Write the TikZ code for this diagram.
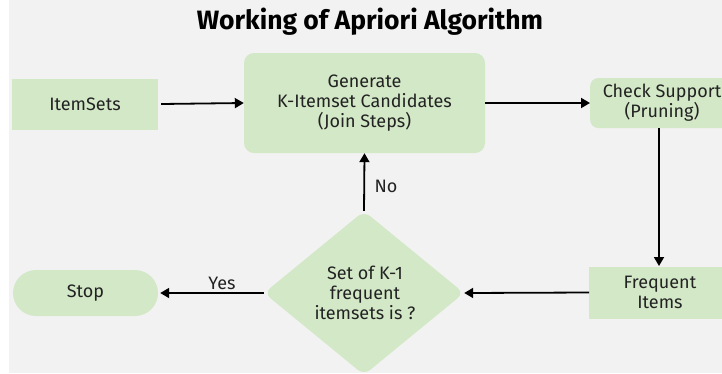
\documentclass[tikz,border=0pt]{standalone}
\usepackage{fontspec}
\setmainfont{Fira Sans}
\usetikzlibrary{arrows.meta,shapes.geometric}
\definecolor{bgpage}{HTML}{F2F2F2}
\definecolor{boxgreen}{HTML}{D3E8C7}
\definecolor{boxtext}{HTML}{222222}
\tikzset{
  x=1pt, y=-1pt,
  flowbox/.style={fill=boxgreen, text=boxtext, inner sep=0pt, align=center,
    font=\fontsize{18}{20}\selectfont},
  flowarrow/.style={line width=1.8pt, -{Triangle[length=9pt,width=10pt]}},
  flowlabel/.style={text=boxtext, font=\fontsize{18}{20}\selectfont, inner sep=0pt}
}
\begin{document}
\begin{tikzpicture}
  \path[use as bounding box] (0,0) rectangle (722,373);
  \clip (0,0) rectangle (722,373);
  % page background with a thin white strip at the left
  \fill[white] (0,0) rectangle (722,373);
  \fill[bgpage] (9,0) rectangle (722,373);

  % title
  \node[font=\fontsize{26.5}{30}\selectfont\bfseries, text=black] (title) at (370,22) {Working of Apriori Algorithm};

  % process boxes
  \node[flowbox, minimum width=146pt, minimum height=51pt] (items) at (85,104) {ItemSets};
  \node[flowbox, rounded corners=10pt, minimum width=241pt, minimum height=100pt] (gen) at (364.5,103)
    {Generate\\K-Itemset Candidates\\(Join Steps)};
  \node[flowbox, rounded corners=8pt, minimum width=150pt, minimum height=50pt, anchor=west] (check) at (590,103) {};
  \node[flowbox] (checktext) at (662,103) {Check Support\\(Pruning)};
  \node[flowbox, minimum width=150pt, minimum height=52pt, anchor=west] (freq) at (589,292.5) {};
  \node[flowbox] (freqtext) at (660,292.5) {Frequent\\Items};
  \node[flowbox, diamond, rounded corners=8pt, minimum width=200pt, minimum height=164pt,
        aspect=1.22] (dec) at (364,293) {};
  \node[flowbox] (dectext) at (365,293) {Set of K-1\\frequent\\itemsets is ?};
  \node[flowbox, rounded corners=23pt, minimum width=145pt, minimum height=46pt] (stop) at (85.5,293) {Stop};

  % connectors
  \draw[flowarrow] ([xshift=3pt]items.east) -- (gen.west);
  \draw[flowarrow] (gen.east) -- (check.west);
  \draw[flowarrow] (659,128) coordinate (chkbot) -- (659,266) coordinate (freqtop);
  \draw[flowarrow] (freq.west) -- (dec.east);
  \draw[flowarrow] (dec.west) -- ([xshift=2pt]stop.east);
  \draw[flowarrow] (dec.north) -- (gen.south);

  % branch labels
  \node[flowlabel] (yes) at (222,283) {Yes};
  \node[flowlabel] (no) at (386,186) {No};
\end{tikzpicture}
\end{document}
